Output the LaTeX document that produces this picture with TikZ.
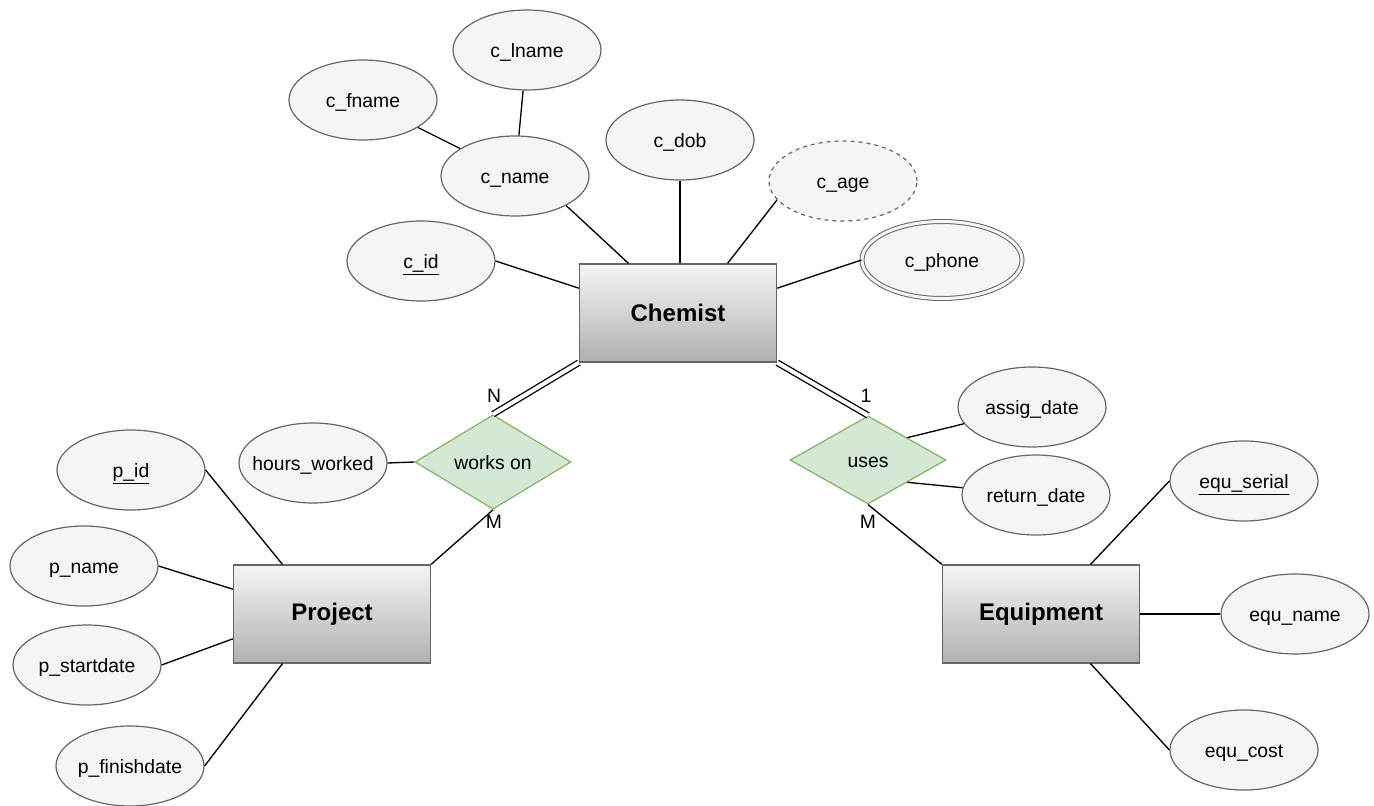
\documentclass[tikz,border=0pt]{standalone}
\usepackage{fontspec}
\setmainfont{Liberation Sans}
\usetikzlibrary{shapes.geometric,calc}

\begin{document}
\begin{tikzpicture}[x=0.75pt,y=-0.75pt,
  attr/.style={ellipse,draw=er_edge,fill=er_attr,line width=0.9pt,
    minimum width=111pt,minimum height=60pt,inner sep=0pt,
    text height=12pt,text depth=0.8pt,
    font=\fontsize{14.5}{17}\selectfont},
  entity/.style={rectangle,draw=er_edge,line width=1pt,
    top color=er_attr,bottom color=er_shade,
    minimum width=147.75pt,minimum height=73.5pt,
    font=\fontsize{18}{21}\selectfont\bfseries},
  rel/.style={diamond,draw=er_reledge,fill=er_rel,line width=0.9pt,
    minimum width=117pt,minimum height=66pt,inner sep=0pt,
    text height=12pt,text depth=0.8pt,
    font=\fontsize{14.5}{17}\selectfont},
  link/.style={line width=1pt,black},
  card/.style={inner sep=0pt,font=\fontsize{14.5}{17}\selectfont}]
% ------------------------------------------------ er theme colors
\definecolor{er_attr}{RGB}{245,245,245}    %#F5F5F5
\definecolor{er_edge}{RGB}{102,102,102}    %#666666
\definecolor{er_shade}{RGB}{176,176,176}   %#B0B0B0
\definecolor{er_rel}{RGB}{213,232,212}     %#D5E8D4
\definecolor{er_reledge}{RGB}{130,179,102} %#82B366

\useasboundingbox (0,0) rectangle (1374,806);

% entities and relationships
\node[entity] (chemist) at (678,313) {Chemist};
\node[entity] (project) at (332,614) {Project};
\node[entity] (equipment) at (1041,614) {Equipment};
\node[rel] (workson) at (493,462) {works on};
\node[rel] (uses) at (868,460) {uses};

% chemist attributes
\node[attr] (clname) at (527,50) {c\_lname};
\node[attr] (cfname) at (363,100) {c\_fname};
\node[attr] (cname) at (515,176) {c\_name};
\node[attr] (cdob) at (680,140) {c\_dob};
\node[attr,dashed] (cage) at (843,181) {c\_age};
\node[attr] (cid) at (421,261) {\underline{c\_id}};
\node[attr,minimum width=120pt,minimum height=57.75pt,
  double=er_attr,double distance=2.25pt,line width=0.75pt] (cphone) at (942,260) {c\_phone};

% relationship attributes
\node[attr] (hours) at (313,463) {\makebox[0pt]{hours\_worked}};
\node[attr] (assig) at (1032,407) {assig\_date};
\node[attr] (return) at (1036,495) {return\_date};

% project attributes
\node[attr] (pid) at (131,470) {\underline{p\_id}};
\node[attr] (pname) at (84,566) {p\_name};
\node[attr] (pstart) at (87,665) {p\_startdate};
\node[attr] (pfinish) at (130,766) {\makebox[0pt]{p\_finishdate}};

% equipment attributes
\node[attr] (eserial) at (1244,481) {\makebox[0pt]{\underline{equ\_serial}}};
\node[attr] (ename) at (1295,614) {equ\_name};
\node[attr] (ecost) at (1244,750) {equ\_cost};

% ------------------------------------------------ connectors
\draw[link] (cfname) -- (cname);
\draw[link] (clname) -- (cname);
\draw[link] (cname.330) -- ($(chemist.north west)!0.25!(chemist.north east)$);
\draw[link] (cdob.south) -- (cdob.south |- chemist.north);
\draw[link] (cage.196) -- ($(chemist.north west)!0.75!(chemist.north east)$);
\draw[link] (cid.east) -- ($(chemist.north west)!0.25!(chemist.south west)$);
\draw[link] (cphone.west) -- ($(chemist.north east)!0.25!(chemist.south east)$);

\draw[link,double,double distance=3pt] (chemist.south west) -- (workson.north);
\draw[link,double,double distance=3pt] (chemist.south east) -- (uses.north);
\draw[link] (workson.south) -- (project.north east);
\draw[link] (uses.south) -- (equipment.north west);

\draw[link] (hours.east) -- (workson.west);
\draw[link] ($(uses.north)!0.5!(uses.east)$) -- (assig);
\draw[link] ($(uses.south)!0.5!(uses.east)$) -- (return);

\draw[link] (pid.east) -- ($(project.north west)!0.25!(project.north east)$);
\draw[link] (pname.east) -- ($(project.north west)!0.25!(project.south west)$);
\draw[link] (pstart.east) -- ($(project.north west)!0.75!(project.south west)$);
\draw[link] (pfinish.east) -- ($(project.south west)!0.25!(project.south east)$);

\draw[link] (eserial.west) -- ($(equipment.north west)!0.75!(equipment.north east)$);
\draw[link] (ename.west) -- (equipment.east);
\draw[link] (ecost.west) -- ($(equipment.south west)!0.75!(equipment.south east)$);

% cardinalities
\node[card] (workson-n) at (494,396) {N};
\node[card] (workson-m) at (494,522) {M};
\node[card] (uses-1) at (866,396) {1};
\node[card] (uses-m) at (868,522) {M};

\end{tikzpicture}
\end{document}
